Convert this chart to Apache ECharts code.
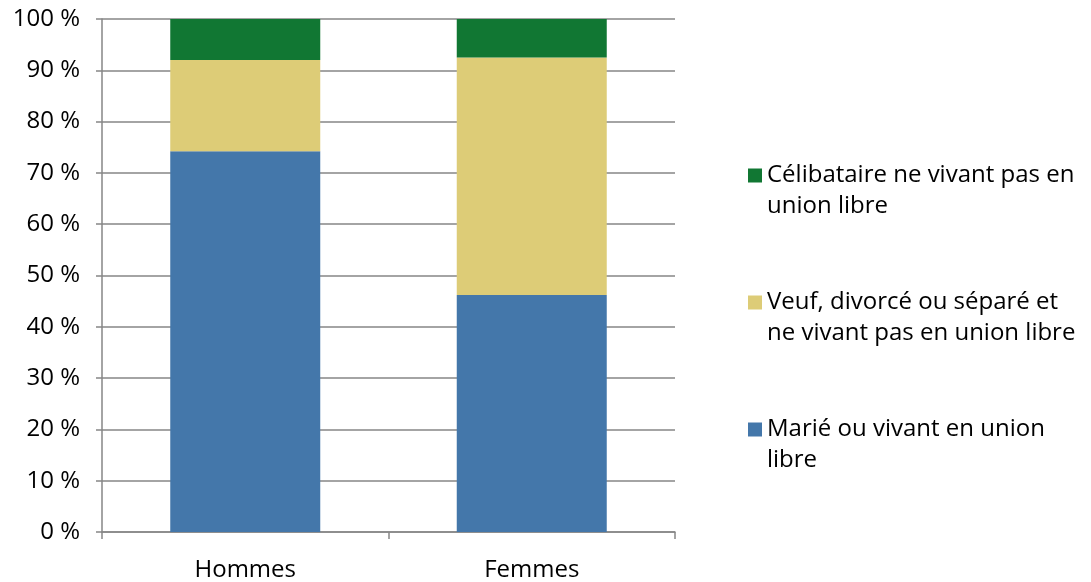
<!DOCTYPE html>
<html>
<head>
<meta charset="utf-8">
<script src="https://cdn.jsdelivr.net/npm/echarts@6/dist/echarts.min.js"></script>
<style>
  html, body { margin: 0; padding: 0; background: #fff; }
  #chart { width: 1091px; height: 582px; }
</style>
</head>
<body>
<div id="chart"></div>
<script>
// données (en %)
const categories = ['Hommes', 'Femmes']
const marie = [74.2, 46.2]
const veuf = [17.8, 46.3]
const celib = [8.0, 7.5]

const names = {
  celib: 'Célibataire ne vivant pas en union libre',
  veuf: 'Veuf, divorcé ou séparé et ne vivant pas en union libre',
  marie: 'Marié ou vivant en union libre'
}
// retours à la ligne de la légende (ligne vide devant pour aligner le carré sur la 1re ligne)
const legendLabels = {}
legendLabels[names.celib] = ' \nCélibataire ne vivant pas en\nunion libre'
legendLabels[names.veuf] = ' \nVeuf, divorcé ou séparé et\nne vivant pas en union libre'
legendLabels[names.marie] = ' \nMarié ou vivant en union\nlibre'

const font = '"Open Sans", sans-serif'
const gray = '#868686'

const chart = echarts.init(document.getElementById('chart'))
chart.setOption({
  animation: false,
  textStyle: { fontFamily: font },
  grid: { left: 102, right: 416, top: 19, bottom: 49 },
  legend: {
    orient: 'vertical',
    left: 748,
    top: 129,
    padding: 0,
    itemGap: 34,
    itemWidth: 14,
    itemHeight: 14,
    icon: 'rect',
    data: [names.celib, names.veuf, names.marie],
    formatter: (n) => legendLabels[n],
    textStyle: {
      fontFamily: font,
      fontSize: 24,
      lineHeight: 31,
      color: '#000'
    }
  },
  xAxis: {
    type: 'category',
    data: categories,
    axisLine: { lineStyle: { color: gray, width: 1.5 } },
    axisTick: { show: true, length: 7, lineStyle: { color: gray, width: 1.5 } },
    axisLabel: { color: '#000', fontSize: 24, margin: 26, fontFamily: font }
  },
  yAxis: {
    type: 'value',
    min: 0,
    max: 100,
    interval: 10,
    axisLine: { show: true, lineStyle: { color: gray, width: 1.5 } },
    axisTick: { show: true, length: 6, lineStyle: { color: gray, width: 1.5 } },
    splitLine: { lineStyle: { color: gray, width: 1.5 } },
    axisLabel: { color: '#000', fontSize: 24, margin: 22, fontFamily: font, formatter: '{value} %' }
  },
  series: [
    { name: names.marie, type: 'bar', stack: 'total', barWidth: 150, data: marie, itemStyle: { color: '#4477AA' } },
    { name: names.veuf, type: 'bar', stack: 'total', data: veuf, itemStyle: { color: '#DDCC77' } },
    { name: names.celib, type: 'bar', stack: 'total', data: celib, itemStyle: { color: '#117733' } }
  ]
})
</script>
</body>
</html>
